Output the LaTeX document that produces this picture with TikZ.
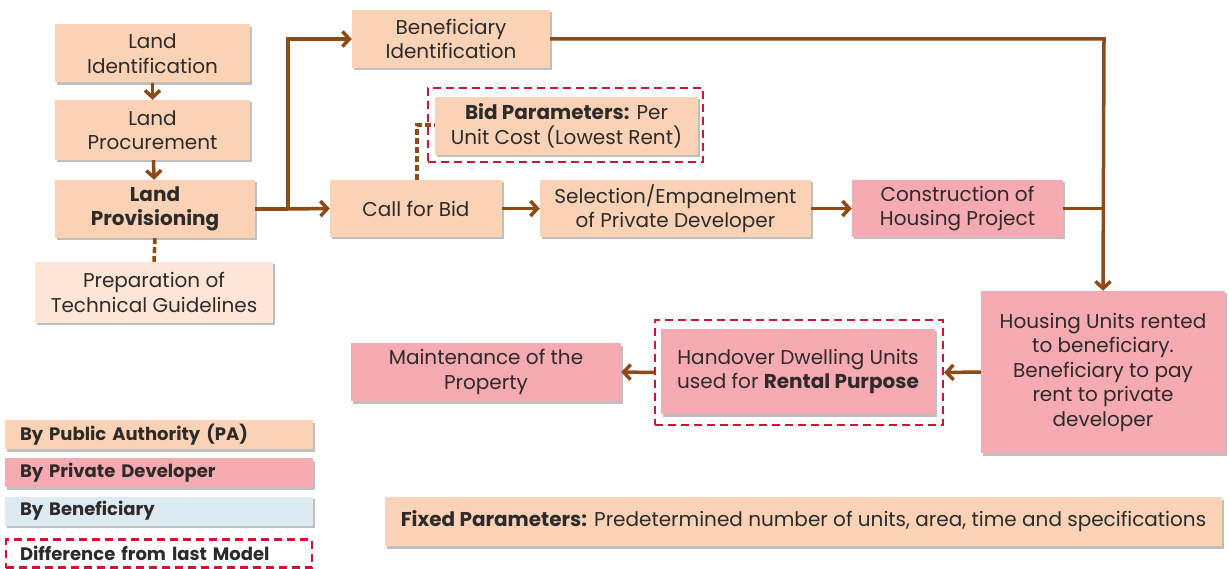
\documentclass[tikz,border=0pt]{standalone}
\usepackage{fontspec}
\setmainfont{Poppins}
\usetikzlibrary{arrows.meta,shadows}
\definecolor{pacol}{HTML}{FAD3B6}
\definecolor{palight}{HTML}{FDE6D6}
\definecolor{pdcol}{HTML}{F6AAB1}
\definecolor{bencol}{HTML}{DCEBF1}
\definecolor{arrowcol}{HTML}{8E4A17}
\definecolor{diffcol}{HTML}{CC1433}
\definecolor{txtcol}{HTML}{2E2A2A}
\tikzset{
  basebox/.style={draw=none, align=center, text=txtcol, inner sep=2pt,
    drop shadow={shadow xshift=1.5pt, shadow yshift=-2.5pt, opacity=0.25, fill=black}},
  pabox/.style={basebox, fill=pacol},
  palightbox/.style={basebox, fill=palight},
  pdbox/.style={basebox, fill=pdcol},
  benbox/.style={basebox, fill=bencol},
  diffbox/.style={draw=diffcol, line width=2.2pt, dash pattern=on 8pt off 5pt, fill=none},
  flow/.style={draw=arrowcol, line width=3.5pt, -{Straight Barb[length=7pt,width=15pt]}},
  flowline/.style={draw=arrowcol, line width=3.5pt},
  link/.style={draw=arrowcol, line width=3.5pt, dash pattern=on 6pt off 3pt},
  legendbox/.style={basebox, minimum width=308pt, minimum height=29pt, text width=278pt, inner xsep=15pt, align=left, font=\fontsize{18}{22}\selectfont\bfseries}
}
\begin{document}
\begin{tikzpicture}[x=1pt,y=-1pt, font=\fontsize{20}{24.5}\selectfont]
\useasboundingbox (0,0) rectangle (1229,569);
\fill[white] (0,0) rectangle (1229,569);

% left column
\node[pabox, minimum width=195pt, minimum height=58pt] (landid) at (152.5,53.5) {Land\\Identification};
\node[pabox, minimum width=195pt, minimum height=60pt] (landproc) at (152.5,130) {Land\\Procurement};
\node[pabox, minimum width=200pt, minimum height=58pt] (landprov) at (155,209) {\bfseries Land\\\bfseries Provisioning};
\node[palightbox, minimum width=238pt, minimum height=61pt] (prep) at (154,292.5) {Preparation of\\Technical Guidelines};

% top row
\node[pabox, minimum width=198pt, minimum height=58pt] (benef) at (451,39) {Beneficiary\\Identification};

% bid parameters
\node[diffbox, minimum width=275pt, minimum height=74pt] (bidouter) at (565.5,125) {};
\node[pabox, minimum width=263pt, minimum height=58pt] (bid) at (566.5,126) {\textbf{Bid Parameters:} Per\\Unit Cost (Lowest Rent)};

% middle row
\node[pabox, minimum width=172pt, minimum height=57pt] (callbid) at (416,208.5) {Call for Bid};
\node[pabox, minimum width=271pt, minimum height=57pt] (select) at (675.5,208.5) {Selection/Empanelment\\of Private Developer};
\node[pdbox, minimum width=211pt, minimum height=57pt] (construct) at (957.5,208.5) {Construction of\\Housing Project};

% lower row
\node[pdbox, minimum width=244pt, minimum height=162pt] (housing) at (1103,372) {Housing Units rented\\to beneficiary.\\Beneficiary to pay\\rent to private\\developer};
\node[diffbox, minimum width=288pt, minimum height=105pt] (handouter) at (799,372.5) {};
\node[pdbox, minimum width=274pt, minimum height=85pt] (handover) at (798,371.5) {Handover Dwelling Units\\used for \textbf{Rental Purpose}};
\node[pdbox, minimum width=270pt, minimum height=58pt] (maint) at (486,372) {Maintenance of the\\Property};

% fixed parameters
\node[pabox, minimum width=837pt, minimum height=49pt] (fixed) at (803.5,521.5) {\textbf{Fixed Parameters:} Predetermined number of units, area, time and specifications};

% legend
\node[legendbox, fill=pacol] (legpa) at (159,434.5) {By Public Authority (PA)};
\node[legendbox, fill=pdcol] (legpd) at (159,472.5) {By Private Developer};
\node[legendbox, fill=bencol] (legben) at (159,511) {By Beneficiary};
\node[diffbox, minimum width=306pt, minimum height=28pt, text width=278pt, inner xsep=14pt, align=left, text=txtcol, font=\fontsize{18}{22}\selectfont\bfseries] (legdiff) at (159,553.5) {Difference from last Model};

% junction coordinates
\coordinate (j1) at (288,209);
\coordinate (j1top) at (288,39);
\coordinate (j2) at (1104,39);
\coordinate (j3) at (1104,208.5);
\coordinate (bidturn) at (417,125);

% connectors
\draw[flow] (landid) -- (landproc);
\draw[flow] (landproc) -- (landprov);
\draw[link] (landprov.south) -- (prep.north);
\draw[flowline] (landprov.east) -- (j1);
\draw[flow] (j1) -- (j1top) -- (benef.west);
\draw[flow] (j1) -- (callbid.west);
\draw[link] (callbid.north -| bidturn) -- (bidturn) -- (bid.west |- bidturn);
\draw[flow] (callbid) -- (select);
\draw[flow] (select) -- (construct);
\draw[flowline] (construct.east) -- (j3);
\draw[flow] (benef.east |- j2) -- (j2) -- (housing.north);
\draw[flow] (housing.west) -- (handouter.east);
\draw[flow] (handouter.west) -- (maint.east);
\end{tikzpicture}
\end{document}
